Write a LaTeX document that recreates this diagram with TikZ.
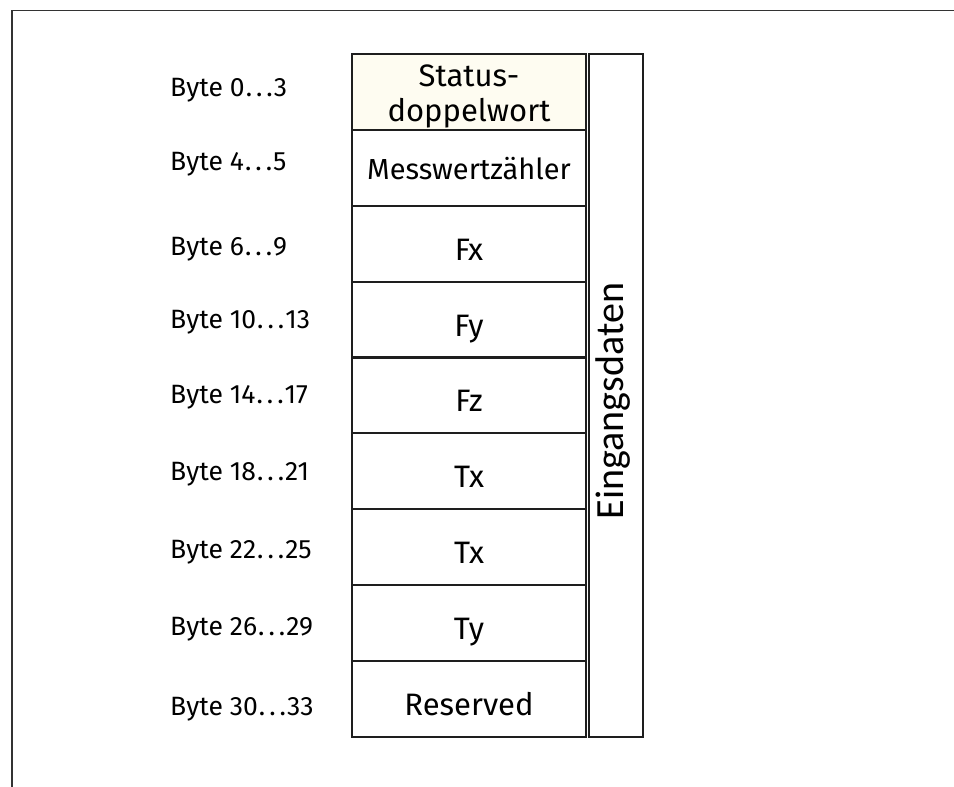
\documentclass[tikz,border=0pt]{standalone}
\usepackage{fontspec}
\setmainfont{Fira Sans}
\newfontfamily\calfont{Carlito}
\newcommand\bdots{\kern1pt.\kern4pt.\kern4pt.\kern1pt}
\definecolor{linecol}{HTML}{1E1E1E}
\definecolor{framecol}{HTML}{333333}
\definecolor{statusfill}{HTML}{FEFCF1}
\begin{document}
\begin{tikzpicture}[x=1pt,y=-1pt,
  rowbox/.style={draw=linecol,line width=2pt,anchor=north west,minimum width=234pt,minimum height=76pt,inner sep=0pt,font=\fontsize{31}{36}\selectfont,text height=32pt,text depth=0pt},
  bytelbl/.style={anchor=base west,inner sep=0pt,font=\fontsize{26.5}{30}\selectfont},
  sidebox/.style={draw=linecol,line width=2pt,anchor=north west,minimum width=54pt,minimum height=683pt,inner sep=0pt}]
\useasboundingbox (0,0) rectangle (954,787);
% frame
\coordinate (fbl) at (12,787);
\coordinate (ftl) at (12,10.5);
\coordinate (ftr) at (954,10.5);
\draw[framecol,line width=1.5pt] (fbl) -- (ftl) -- (ftr);
% rows
\node[rowbox,fill=statusfill] (r0) at (351,53) {};
\node[align=center,inner sep=0pt,font=\fontsize{31}{35}\selectfont,yshift=-4pt] (r0t) at (r0.center) {Status-\\doppelwort};
\node[rowbox,text height=22pt,font=\fontsize{29}{36}\selectfont] (r1) at (351,129) {Messwertzähler};
\node[rowbox] (r2) at (351,205) {Fx};
\node[rowbox] (r3) at (351,281) {Fy};
\node[rowbox] (r4) at (351,356) {Fz};
\node[rowbox] (r5) at (351,432) {Tx};
\node[rowbox] (r6) at (351,508) {Tx};
\node[rowbox] (r7) at (351,584) {Ty};
\node[rowbox] (r8) at (351,660) {Reserved};
% side box
\node[sidebox] (side) at (588,53) {};
\node[rotate=90,font=\calfont\fontsize{40}{44}\selectfont,inner sep=0pt] (sidelbl) at (613,401) {Eingangsdaten};
% byte labels
\node[bytelbl] (b0) at (170,96) {Byte 0\bdots3};
\node[bytelbl] (b1) at (170,170) {Byte 4\bdots5};
\node[bytelbl] (b2) at (170,255) {Byte 6\bdots9};
\node[bytelbl] (b3) at (170,328) {Byte 10\bdots13};
\node[bytelbl] (b4) at (170,403) {Byte 14\bdots17};
\node[bytelbl] (b5) at (170,480) {Byte 18\bdots21};
\node[bytelbl] (b6) at (170,558) {Byte 22\bdots25};
\node[bytelbl] (b7) at (170,635) {Byte 26\bdots29};
\node[bytelbl] (b8) at (170,715) {Byte 30\bdots33};
\end{tikzpicture}
\end{document}
